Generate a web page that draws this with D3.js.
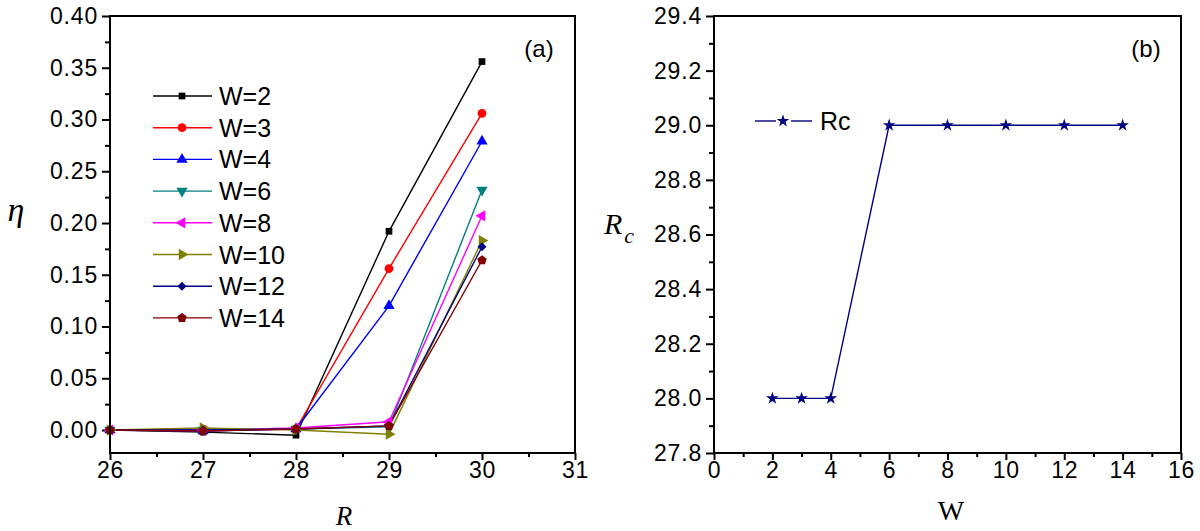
<!DOCTYPE html>
<html><head><meta charset="utf-8">
<script src="https://cdn.jsdelivr.net/npm/d3@7"></script>
<style>body{margin:0;background:#fff} svg{display:block}</style>
</head><body><svg id="c" width="1200" height="531"></svg>
<script>
// ---------- data ----------
const rValues = [26, 27, 28, 29, 30];
const seriesNames = ["W=2", "W=3", "W=4", "W=6", "W=8", "W=10", "W=12", "W=14"];
const etaW2  = [0.000, -0.002, -0.005, 0.192, 0.356];
const etaW3  = [0.000, -0.001,  0.001, 0.156, 0.306];
const etaW4  = [0.000, -0.001,  0.001, 0.120, 0.279];
const etaW6  = [0.000,  0.000,  0.001, 0.003, 0.232];
const etaW8  = [0.000,  0.000,  0.002, 0.008, 0.207];
const etaW10 = [0.000,  0.002,  0.000, -0.004, 0.183];
const etaW12 = [0.000,  0.000,  0.001, 0.004, 0.177];
const etaW14 = [0.000, -0.001,  0.001, 0.004, 0.164];
const etaSeries = [etaW2, etaW3, etaW4, etaW6, etaW8, etaW10, etaW12, etaW14];
const etaTicks = [0.00, 0.05, 0.10, 0.15, 0.20, 0.25, 0.30, 0.35, 0.40];
const rTicks = [26, 27, 28, 29, 30, 31];

const wValues = [2, 3, 4, 6, 8, 10, 12, 14];
const rcValues = [28, 28, 28, 29, 29, 29, 29, 29];
const rcTicks = [27.8, 28.0, 28.2, 28.4, 28.6, 28.8, 29.0, 29.2, 29.4];
const wTicks = [0, 2, 4, 6, 8, 10, 12, 14, 16];

// ---------- styles ----------
const colors = ["#000000", "#ff0000", "#0000ff", "#008080", "#ff00ff", "#808000", "#000080", "#800000"];
const sans = "'Liberation Sans', Arial, sans-serif";
const serif = "'Liberation Serif', 'Times New Roman', serif";

const svg = d3.select("#c");

function pentagon(r) {
  const pts = d3.range(5).map(i => {
    const a = -Math.PI / 2 + i * 2 * Math.PI / 5;
    return [r * Math.cos(a), r * Math.sin(a)];
  });
  return "M" + pts.map(p => p.join(",")).join("L") + "Z";
}
const markerDefs = [
  {type: d3.symbolSquare, size: 45, rot: 0},
  {type: d3.symbolCircle, size: 60, rot: 0},
  {type: d3.symbolTriangle, size: 55, rot: 0},
  {type: d3.symbolTriangle, size: 55, rot: 180},
  {type: d3.symbolTriangle, size: 55, rot: -90},
  {type: d3.symbolTriangle, size: 55, rot: 90},
  {type: d3.symbolSquare, size: 40, rot: 45},
  {type: "pent", size: 5, rot: 0}
];
function markerPath(i) {
  const m = markerDefs[i];
  if (m.type === "pent") return pentagon(m.size);
  return d3.symbol().type(m.type).size(m.size)();
}

function drawFrame(g, x, y) {
  g.append("rect")
    .attr("x", x.range()[0]).attr("y", y.range()[1])
    .attr("width", x.range()[1] - x.range()[0])
    .attr("height", y.range()[0] - y.range()[1])
    .attr("fill", "none").attr("stroke", "#000").attr("stroke-width", 2);
}

function drawAxes(g, x, y, xt, xMinor, yt, yMinor, xfmt, yfmt) {
  const ax = g.append("g").attr("transform", `translate(0,${y.range()[0]})`)
    .call(d3.axisBottom(x).tickValues(xt).tickFormat(xfmt).tickSize(7).tickSizeOuter(0).tickPadding(2));
  const axm = g.append("g").attr("transform", `translate(0,${y.range()[0]})`)
    .call(d3.axisBottom(x).tickValues(xMinor).tickFormat("").tickSize(4).tickSizeOuter(0));
  const ay = g.append("g").attr("transform", `translate(${x.range()[0]},0)`)
    .call(d3.axisLeft(y).tickValues(yt).tickFormat(yfmt).tickSize(8).tickSizeOuter(0).tickPadding(4));
  const aym = g.append("g").attr("transform", `translate(${x.range()[0]},0)`)
    .call(d3.axisLeft(y).tickValues(yMinor).tickFormat("").tickSize(5).tickSizeOuter(0));
  [ax, axm, ay, aym].forEach(a => {
    a.select(".domain").remove();
    a.selectAll("line").attr("stroke", "#000").attr("stroke-width", 2);
    a.selectAll("text").attr("font-family", sans).attr("font-size", 23)
      .attr("letter-spacing", "0.8px").attr("fill", "#000");
  });
}

// ---------- panel (a) ----------
const xa = d3.scaleLinear().domain([26, 31]).range([110, 575]);
const ya = d3.scaleLinear().domain([-0.0222, 0.40]).range([453, 16]);
const ga = svg.append("g");

drawAxes(ga, xa, ya, rTicks, d3.range(26.5, 31, 1), etaTicks,
  d3.range(0.025, 0.40, 0.05), d3.format("d"), d3.format(".2f"));

const line = d3.line().x((d, i) => xa(rValues[i])).y(d => ya(d));
etaSeries.forEach((s, k) => {
  ga.append("path").attr("d", line(s)).attr("fill", "none")
    .attr("stroke", colors[k]).attr("stroke-width", 1.4);
});
etaSeries.forEach((s, k) => {
  ga.selectAll(null).data(s).enter().append("path")
    .attr("d", markerPath(k))
    .attr("transform", (d, i) => `translate(${xa(rValues[i])},${ya(d)}) rotate(${markerDefs[k].rot})`)
    .attr("fill", colors[k]);
});
drawFrame(ga, xa, ya);

// legend (a)
const legA = ga.append("g");
seriesNames.forEach((n, k) => {
  const yy = 96 + k * 31.7;
  legA.append("line").attr("x1", 153).attr("x2", 212).attr("y1", yy).attr("y2", yy)
    .attr("stroke", colors[k]).attr("stroke-width", 1.4);
  legA.append("path").attr("d", markerPath(k))
    .attr("transform", `translate(182,${yy}) rotate(${markerDefs[k].rot})`)
    .attr("fill", colors[k]);
  legA.append("text").attr("x", 219).attr("y", yy + 9).text(n)
    .attr("font-family", sans).attr("font-size", 25).attr("fill", "#000");
});
ga.append("text").attr("x", 539).attr("y", 57).attr("text-anchor", "middle")
  .text("(a)").attr("font-family", sans).attr("font-size", 24);
ga.append("text").attr("x", 344).attr("y", 525).attr("text-anchor", "middle")
  .text("R").attr("font-family", serif).attr("font-style", "italic").attr("font-size", 27);
ga.append("text").attr("x", 16).attr("y", 221).attr("text-anchor", "middle")
  .text("η").attr("font-family", serif).attr("font-style", "italic").attr("font-size", 34);

// ---------- panel (b) ----------
const xb = d3.scaleLinear().domain([0, 16]).range([714, 1181]);
const yb = d3.scaleLinear().domain([27.8, 29.4]).range([453, 16]);
const gb = svg.append("g");
drawAxes(gb, xb, yb, wTicks, d3.range(1, 16, 2), rcTicks,
  d3.range(27.9, 29.4, 0.2), d3.format("d"), d3.format(".1f"));

const navy = "#000080";
const lineB = d3.line().x((d, i) => xb(wValues[i])).y(d => yb(d));
gb.append("path").attr("d", lineB(rcValues)).attr("fill", "none")
  .attr("stroke", navy).attr("stroke-width", 1.4);
const star = d3.symbol().type(d3.symbolStar).size(50)();
gb.selectAll(null).data(rcValues).enter().append("path")
  .attr("d", star)
  .attr("transform", (d, i) => `translate(${xb(wValues[i])},${yb(d)})`)
  .attr("fill", navy);
drawFrame(gb, xb, yb);

// legend (b)
gb.append("line").attr("x1", 755).attr("x2", 776).attr("y1", 121).attr("y2", 121)
  .attr("stroke", navy).attr("stroke-width", 1.4);
gb.append("line").attr("x1", 791).attr("x2", 812).attr("y1", 121).attr("y2", 121)
  .attr("stroke", navy).attr("stroke-width", 1.4);
gb.append("path").attr("d", star).attr("transform", "translate(783,121)").attr("fill", navy);
gb.append("text").attr("x", 820).attr("y", 130).text("Rc")
  .attr("font-family", sans).attr("font-size", 25);
gb.append("text").attr("x", 1146).attr("y", 57).attr("text-anchor", "middle")
  .text("(b)").attr("font-family", sans).attr("font-size", 24);
gb.append("text").attr("x", 951).attr("y", 520).attr("text-anchor", "middle")
  .text("W").attr("font-family", serif).attr("font-size", 28);
const rc = gb.append("text").attr("x", 604).attr("y", 234)
  .attr("font-family", serif).attr("font-style", "italic").attr("font-size", 30);
rc.append("tspan").text("R");
rc.append("tspan").text("c").attr("font-size", 22).attr("dy", 9).attr("dx", 2);
</script>
</body></html>
